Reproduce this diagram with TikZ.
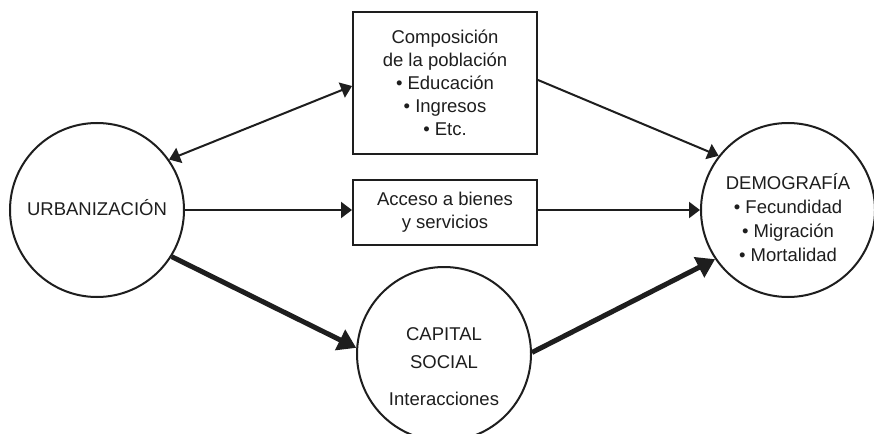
\documentclass[tikz,border=0pt]{standalone}
\usepackage{fontspec}
\setmainfont{Liberation Sans}
\usetikzlibrary{arrows.meta}
\definecolor{ink}{HTML}{1E1E1E}
\tikzset{
  circ/.style={circle, draw=ink, line width=2pt, minimum size=174pt, inner sep=0pt},
  boxnode/.style={rectangle, draw=ink, line width=2pt, minimum width=184pt, inner sep=0pt, align=center, text=ink, font=\fontsize{18.5}{23}\selectfont},
  txt/.style={align=center, text=ink, inner sep=0pt, font=\fontsize{18.5}{24}\selectfont},
  thin/.style={draw=ink, line width=2pt, -{Triangle[length=11pt,width=16pt]}},
  thinboth/.style={draw=ink, line width=2pt, {Triangle[length=11pt,width=16pt]}-{Triangle[length=11pt,width=16pt]}},
  thick/.style={draw=ink, line width=5pt, -{Triangle[length=18pt,width=22pt]}}
}
\begin{document}
\begin{tikzpicture}[x=1pt,y=-1pt]
\clip (0,0) rectangle (874,433);
\fill[white] (0,0) rectangle (874,433);
% nodes
\node[circ] (urb) at (97,210) {};
\node[txt] (urbT) at (97,208) {URBANIZACIÓN};
\node[circ] (demog) at (788,210) {};
\node[txt] (demogT) at (788,218) {DEMOGRAFÍA\\• Fecundidad\\• Migración\\• Mortalidad};
\node[circ] (cap) at (444,354) {};
\node[txt, font=\fontsize{18.5}{28}\selectfont] (capT) at (444,367) {CAPITAL\\SOCIAL\\[9pt]Interacciones};
\node[boxnode, minimum height=142pt] (comp) at (445,83) {Composición\\de la población\\• Educación\\• Ingresos\\• Etc.};
\node[boxnode, minimum height=65pt] (acc) at (445,212.5) {Acceso a bienes\\y servicios};
% connectors
\draw[thinboth] (urb.35) -- ([yshift=-3pt]comp.west);
\draw[thin] ([yshift=3pt]comp.east) -- (demog.142);
\draw[thin] (urb.east) -- (urb.east -| acc.west);
\draw[thin] (acc.east |- demog.west) -- (demog.west);
\draw[thick] (urb.-32) -- (cap.176);
\draw[thick] (cap.1) -- (demog.-146);
\end{tikzpicture}
\end{document}
